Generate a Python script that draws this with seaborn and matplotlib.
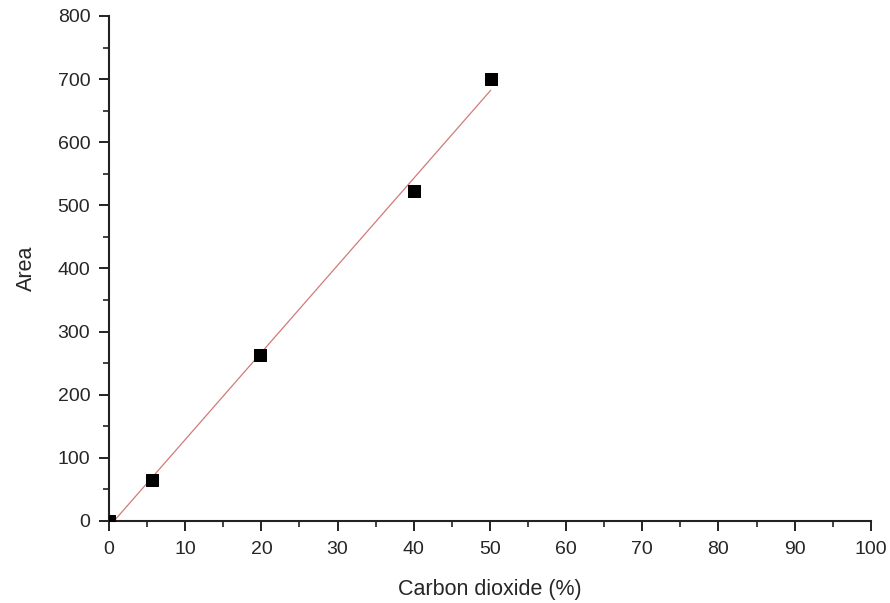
import numpy as np
import pandas as pd
import matplotlib
matplotlib.use("Agg")
import matplotlib.pyplot as plt
import seaborn as sns
from matplotlib.ticker import MultipleLocator

# ---------- data ----------
co2_pct = [0, 5.7, 19.8, 40.0, 50.1]
area = [0, 65, 263, 522, 700]

df = pd.DataFrame({"co2": co2_pct, "area": area})

sns.set_theme(style="ticks")
plt.rcParams["font.family"] = ["Liberation Sans", "DejaVu Sans"]

fig = plt.figure(figsize=(8.9, 6.03), dpi=100)
ax = fig.add_axes([0.1225, 0.136, 0.856, 0.8375])

# linear fit line (thin red) + square black markers
sns.regplot(data=df, x="co2", y="area", ci=None, scatter=False, ax=ax,
            line_kws={"color": "#d27a7a", "lw": 0.9}, truncate=True)
sns.scatterplot(data=df, x="co2", y="area", marker="s", s=85,
                color="black", edgecolor="black", ax=ax, zorder=3)

ax.set_xlim(0, 100)
ax.set_ylim(0, 800)
ax.xaxis.set_major_locator(MultipleLocator(10))
ax.xaxis.set_minor_locator(MultipleLocator(5))
ax.yaxis.set_major_locator(MultipleLocator(100))
ax.yaxis.set_minor_locator(MultipleLocator(50))

ax.set_xlabel("Carbon dioxide (%)", fontsize=15.5, labelpad=15)
ax.set_ylabel("Area", fontsize=15.5, labelpad=15)
ax.tick_params(which="major", length=7.5, width=1.4, labelsize=14,
               color="#222222", pad=7)
ax.tick_params(axis="y", which="major", pad=6)
ax.tick_params(which="minor", length=4, width=1.2, color="#222222")
for s in ["left", "bottom"]:
    ax.spines[s].set_linewidth(1.5)
    ax.spines[s].set_color("#222222")
sns.despine(ax=ax)

fig.savefig("out.png", dpi=100)
